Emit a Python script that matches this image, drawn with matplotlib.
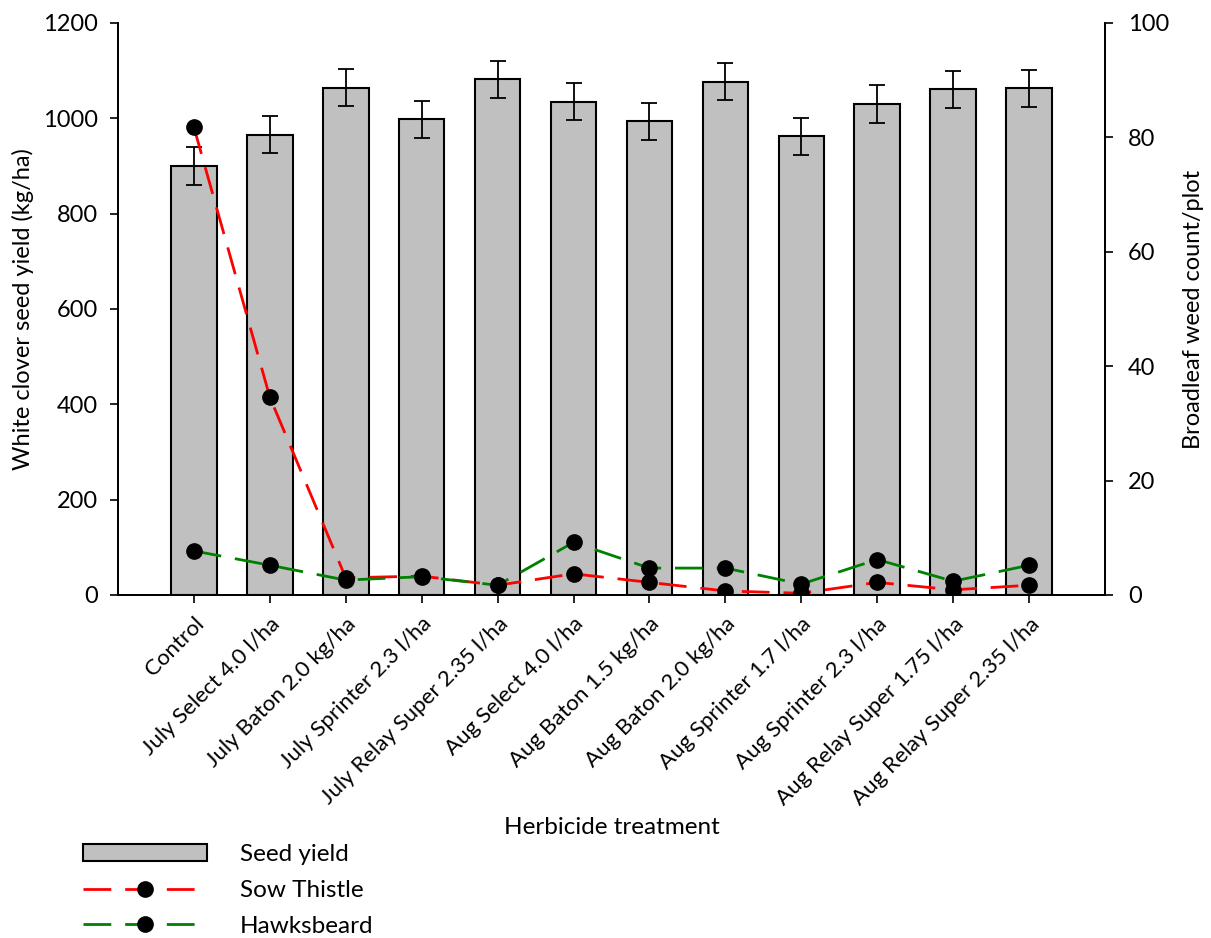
import numpy as np
import matplotlib.pyplot as plt

plt.rcParams['font.family'] = ['Lato', 'DejaVu Sans']

treatments = ['Control', 'July Select 4.0 l/ha', 'July Baton 2.0 kg/ha', 'July Sprinter 2.3 l/ha',
              'July Relay Super 2.35 l/ha', 'Aug Select 4.0 l/ha', 'Aug Baton 1.5 kg/ha',
              'Aug Baton 2.0 kg/ha', 'Aug Sprinter 1.7 l/ha', 'Aug Sprinter 2.3 l/ha',
              'Aug Relay Super 1.75 l/ha', 'Aug Relay Super 2.35 l/ha']
seed_yield = [900, 966, 1064, 998, 1082, 1035, 994, 1077, 962, 1030, 1061, 1063]
yield_err = [39, 39, 39, 39, 39, 39, 39, 39, 39, 39, 39, 39]
sow_thistle = [81.8, 34.6, 3.0, 3.3, 1.7, 3.7, 2.2, 0.7, 0.3, 2.2, 0.9, 1.7]
hawksbeard = [7.7, 5.2, 2.6, 3.2, 1.7, 9.2, 4.7, 4.7, 1.9, 6.2, 2.4, 5.2]

x = np.arange(len(treatments))

fig = plt.figure(figsize=(12.11, 9.38), dpi=100)
ax = fig.add_axes([0.0974, 0.3657, 0.8151, 0.6098])
ax2 = ax.twinx()

bars = ax.bar(x, seed_yield, width=0.6, color='#c0c0c0', edgecolor='black', linewidth=1.5,
              label='Seed yield', zorder=2)
ax.errorbar(x, seed_yield, yerr=yield_err, fmt='none', ecolor='black', elinewidth=1.3,
            capsize=5.5, capthick=1.3, zorder=3)

l1, = ax2.plot(x, sow_thistle, color='red', linewidth=2, dashes=(10, 5), marker='o',
               markersize=11, markerfacecolor='black', markeredgecolor='black', label='Sow Thistle')
l2, = ax2.plot(x, hawksbeard, color='green', linewidth=2, dashes=(10, 5), marker='o',
               markersize=11, markerfacecolor='black', markeredgecolor='black', label='Hawksbeard')

ax.set_xlim(-1, 12)
ax.set_ylim(0, 1200)
ax.set_yticks(range(0, 1201, 200))
ax2.set_ylim(0, 100)
ax2.set_yticks(range(0, 101, 20))

for a in (ax, ax2):
    a.spines['top'].set_visible(False)
    for s in a.spines.values():
        s.set_linewidth(1.3)
    a.tick_params(direction='out', length=5.5, width=1.2, labelsize=17, pad=9)
ax2.tick_params(pad=11)

ax.set_xticks(x)
ax.set_xticklabels(treatments, rotation=45, ha='right', rotation_mode='anchor')
ax.tick_params(axis='x', labelsize=16, pad=8)

ax.set_ylabel('White clover seed yield (kg/ha)', fontsize=17, labelpad=6)
ax2.set_ylabel('Broadleaf weed count/plot', fontsize=17, labelpad=10)
ax.set_xlabel('Herbicide treatment', fontsize=17.5, labelpad=6)

fig.legend(handles=[bars, l1, l2], labels=['Seed yield', 'Sow Thistle', 'Hawksbeard'],
           loc='upper left', bbox_to_anchor=(0.0685, 0.0997), frameon=False, fontsize=17.5,
           handlelength=5.1, handletextpad=1.35, labelspacing=0.6, numpoints=1,
           borderaxespad=0, borderpad=0)

fig.savefig('out.png', dpi=100)
